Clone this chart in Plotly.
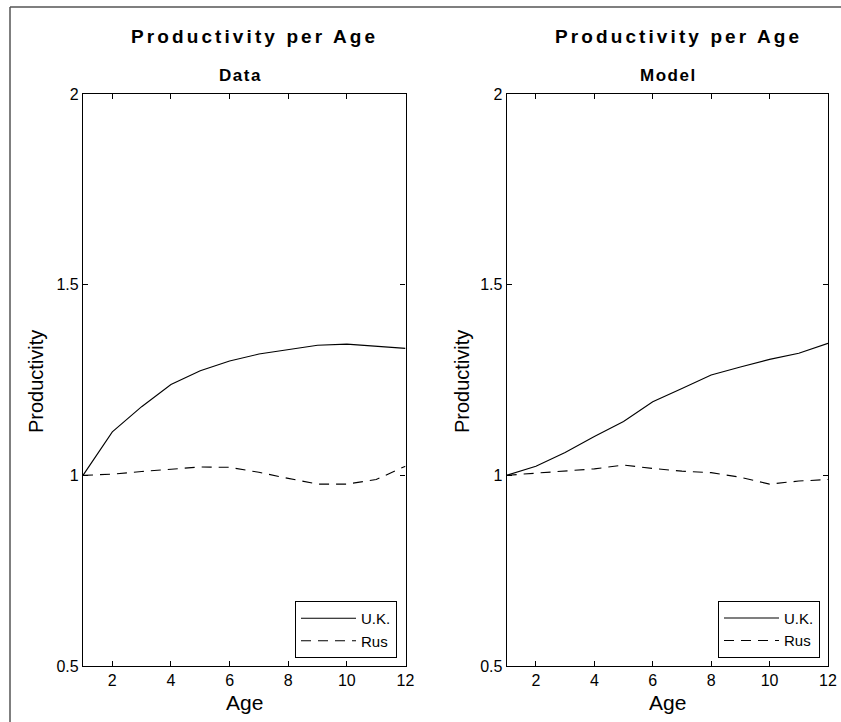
import plotly.graph_objects as go

ages = [1, 2, 3, 4, 5, 6, 7, 8, 9, 10, 11, 12]
uk_data = [1.0, 1.114, 1.18, 1.238, 1.274, 1.300, 1.318, 1.329, 1.341, 1.344, 1.338, 1.333]
rus_data = [1.0, 1.003, 1.01, 1.016, 1.022, 1.021, 1.008, 0.992, 0.977, 0.977, 0.989, 1.024]
uk_model = [1.0, 1.024, 1.060, 1.102, 1.141, 1.193, 1.228, 1.263, 1.284, 1.304, 1.320, 1.346]
rus_model = [1.0, 1.006, 1.012, 1.017, 1.027, 1.018, 1.011, 1.007, 0.995, 0.977, 0.985, 0.989]

x_ticks = [2, 4, 6, 8, 10, 12]
y_ticks = [0.5, 1, 1.5, 2]
y_tick_labels = ["0.5", "1", "1.5", "2"]
main_title = "Productivity per Age"
sub_titles = ["Data", "Model"]
series_names = ["U.K.", "Rus"]

W, H = 841, 722
FONT = "Liberation Sans, Arial, sans-serif"

def px(x):
    return x / W

def py(y):
    return 1 - y / H

left_dom = [px(83), px(405.5)]
right_dom = [px(506.7), px(828)]
y_dom = [py(666), py(94)]

fig = go.Figure()

fig.add_trace(go.Scatter(x=ages, y=uk_data, mode="lines", name=series_names[0],
                         line=dict(color="black", width=1.1), xaxis="x", yaxis="y",
                         legend="legend"))
fig.add_trace(go.Scatter(x=ages, y=rus_data, mode="lines", name=series_names[1],
                         line=dict(color="black", width=1.1, dash="10px,7px"), xaxis="x", yaxis="y",
                         legend="legend"))
fig.add_trace(go.Scatter(x=ages, y=uk_model, mode="lines", name=series_names[0],
                         line=dict(color="black", width=1.1), xaxis="x2", yaxis="y2",
                         legend="legend2"))
fig.add_trace(go.Scatter(x=ages, y=rus_model, mode="lines", name=series_names[1],
                         line=dict(color="black", width=1.1, dash="10px,7px"), xaxis="x2", yaxis="y2",
                         legend="legend2"))

axis_common = dict(showline=True, linecolor="black", linewidth=1.2, mirror="allticks",
                   ticks="inside", ticklen=5, tickcolor="black", tickwidth=1,
                   showgrid=False, zeroline=False, automargin=False,
                   tickfont=dict(family=FONT, size=16, color="black"))

legend_common = dict(xanchor="right", yanchor="bottom", bgcolor="white",
                     bordercolor="black", borderwidth=1, itemwidth=55,
                     font=dict(family=FONT, size=15, color="black"), tracegroupgap=0)

fig.update_layout(
    template="none",
    width=W, height=H, autosize=False,
    margin=dict(l=0, r=0, t=0, b=0, pad=0),
    paper_bgcolor="white", plot_bgcolor="white",
    font=dict(family=FONT, color="black"),
    xaxis=dict(domain=left_dom, range=[1, 12], tickvals=x_ticks, anchor="y", **axis_common),
    yaxis=dict(domain=y_dom, range=[0.5, 2], tickvals=y_ticks, ticktext=y_tick_labels,
               anchor="x", **axis_common),
    xaxis2=dict(domain=right_dom, range=[1, 12], tickvals=x_ticks, anchor="y2", **axis_common),
    yaxis2=dict(domain=y_dom, range=[0.5, 2], tickvals=y_ticks, ticktext=y_tick_labels,
                anchor="x2", **axis_common),
    legend=dict(x=px(397), y=py(658), **legend_common),
    legend2=dict(x=px(820), y=py(657.7), **legend_common),
    showlegend=True,
)

annotations = []
for cx_title, cx_sub, cx_plot, sub in [(254.3, 240.5, 244, sub_titles[0]), (678.2, 668.2, 667.3, sub_titles[1])]:
    annotations.append(dict(text='<span style="letter-spacing:3.1px">' + main_title + '</span>',
                            x=px(cx_title), y=py(36.8), xref="paper", yref="paper",
                            xanchor="center", yanchor="middle", showarrow=False,
                            font=dict(family=FONT, size=19, color="black", weight="bold")))
    annotations.append(dict(text='<span style="letter-spacing:1.5px">' + sub + '</span>',
                            x=px(cx_sub), y=py(75), xref="paper", yref="paper",
                            xanchor="center", yanchor="middle", showarrow=False,
                            font=dict(family=FONT, size=17, color="black", weight="bold")))
    annotations.append(dict(text="Age", x=px(cx_plot), y=py(702), xref="paper", yref="paper",
                            xanchor="center", yanchor="middle", showarrow=False,
                            font=dict(family=FONT, size=21, color="black")))
annotations.append(dict(text="Productivity", x=px(36), y=py(382), xref="paper", yref="paper",
                        xanchor="center", yanchor="middle", showarrow=False, textangle=-90,
                        font=dict(family=FONT, size=20, color="black")))
annotations.append(dict(text="Productivity", x=px(462), y=py(382), xref="paper", yref="paper",
                        xanchor="center", yanchor="middle", showarrow=False, textangle=-90,
                        font=dict(family=FONT, size=20, color="black")))
fig.update_layout(annotations=annotations)

# outer frame (left and top edges visible)
fig.add_shape(type="line", xref="paper", yref="paper", x0=px(10), x1=px(10), y0=0, y1=py(7),
              line=dict(color="#555555", width=1.5))
fig.add_shape(type="line", xref="paper", yref="paper", x0=px(10), x1=1, y0=py(7), y1=py(7),
              line=dict(color="#555555", width=1.5))

fig.write_html("out.html", config={"displayModeBar": False},
               post_script="document.body.style.margin='0';document.body.style.overflow='hidden';")
